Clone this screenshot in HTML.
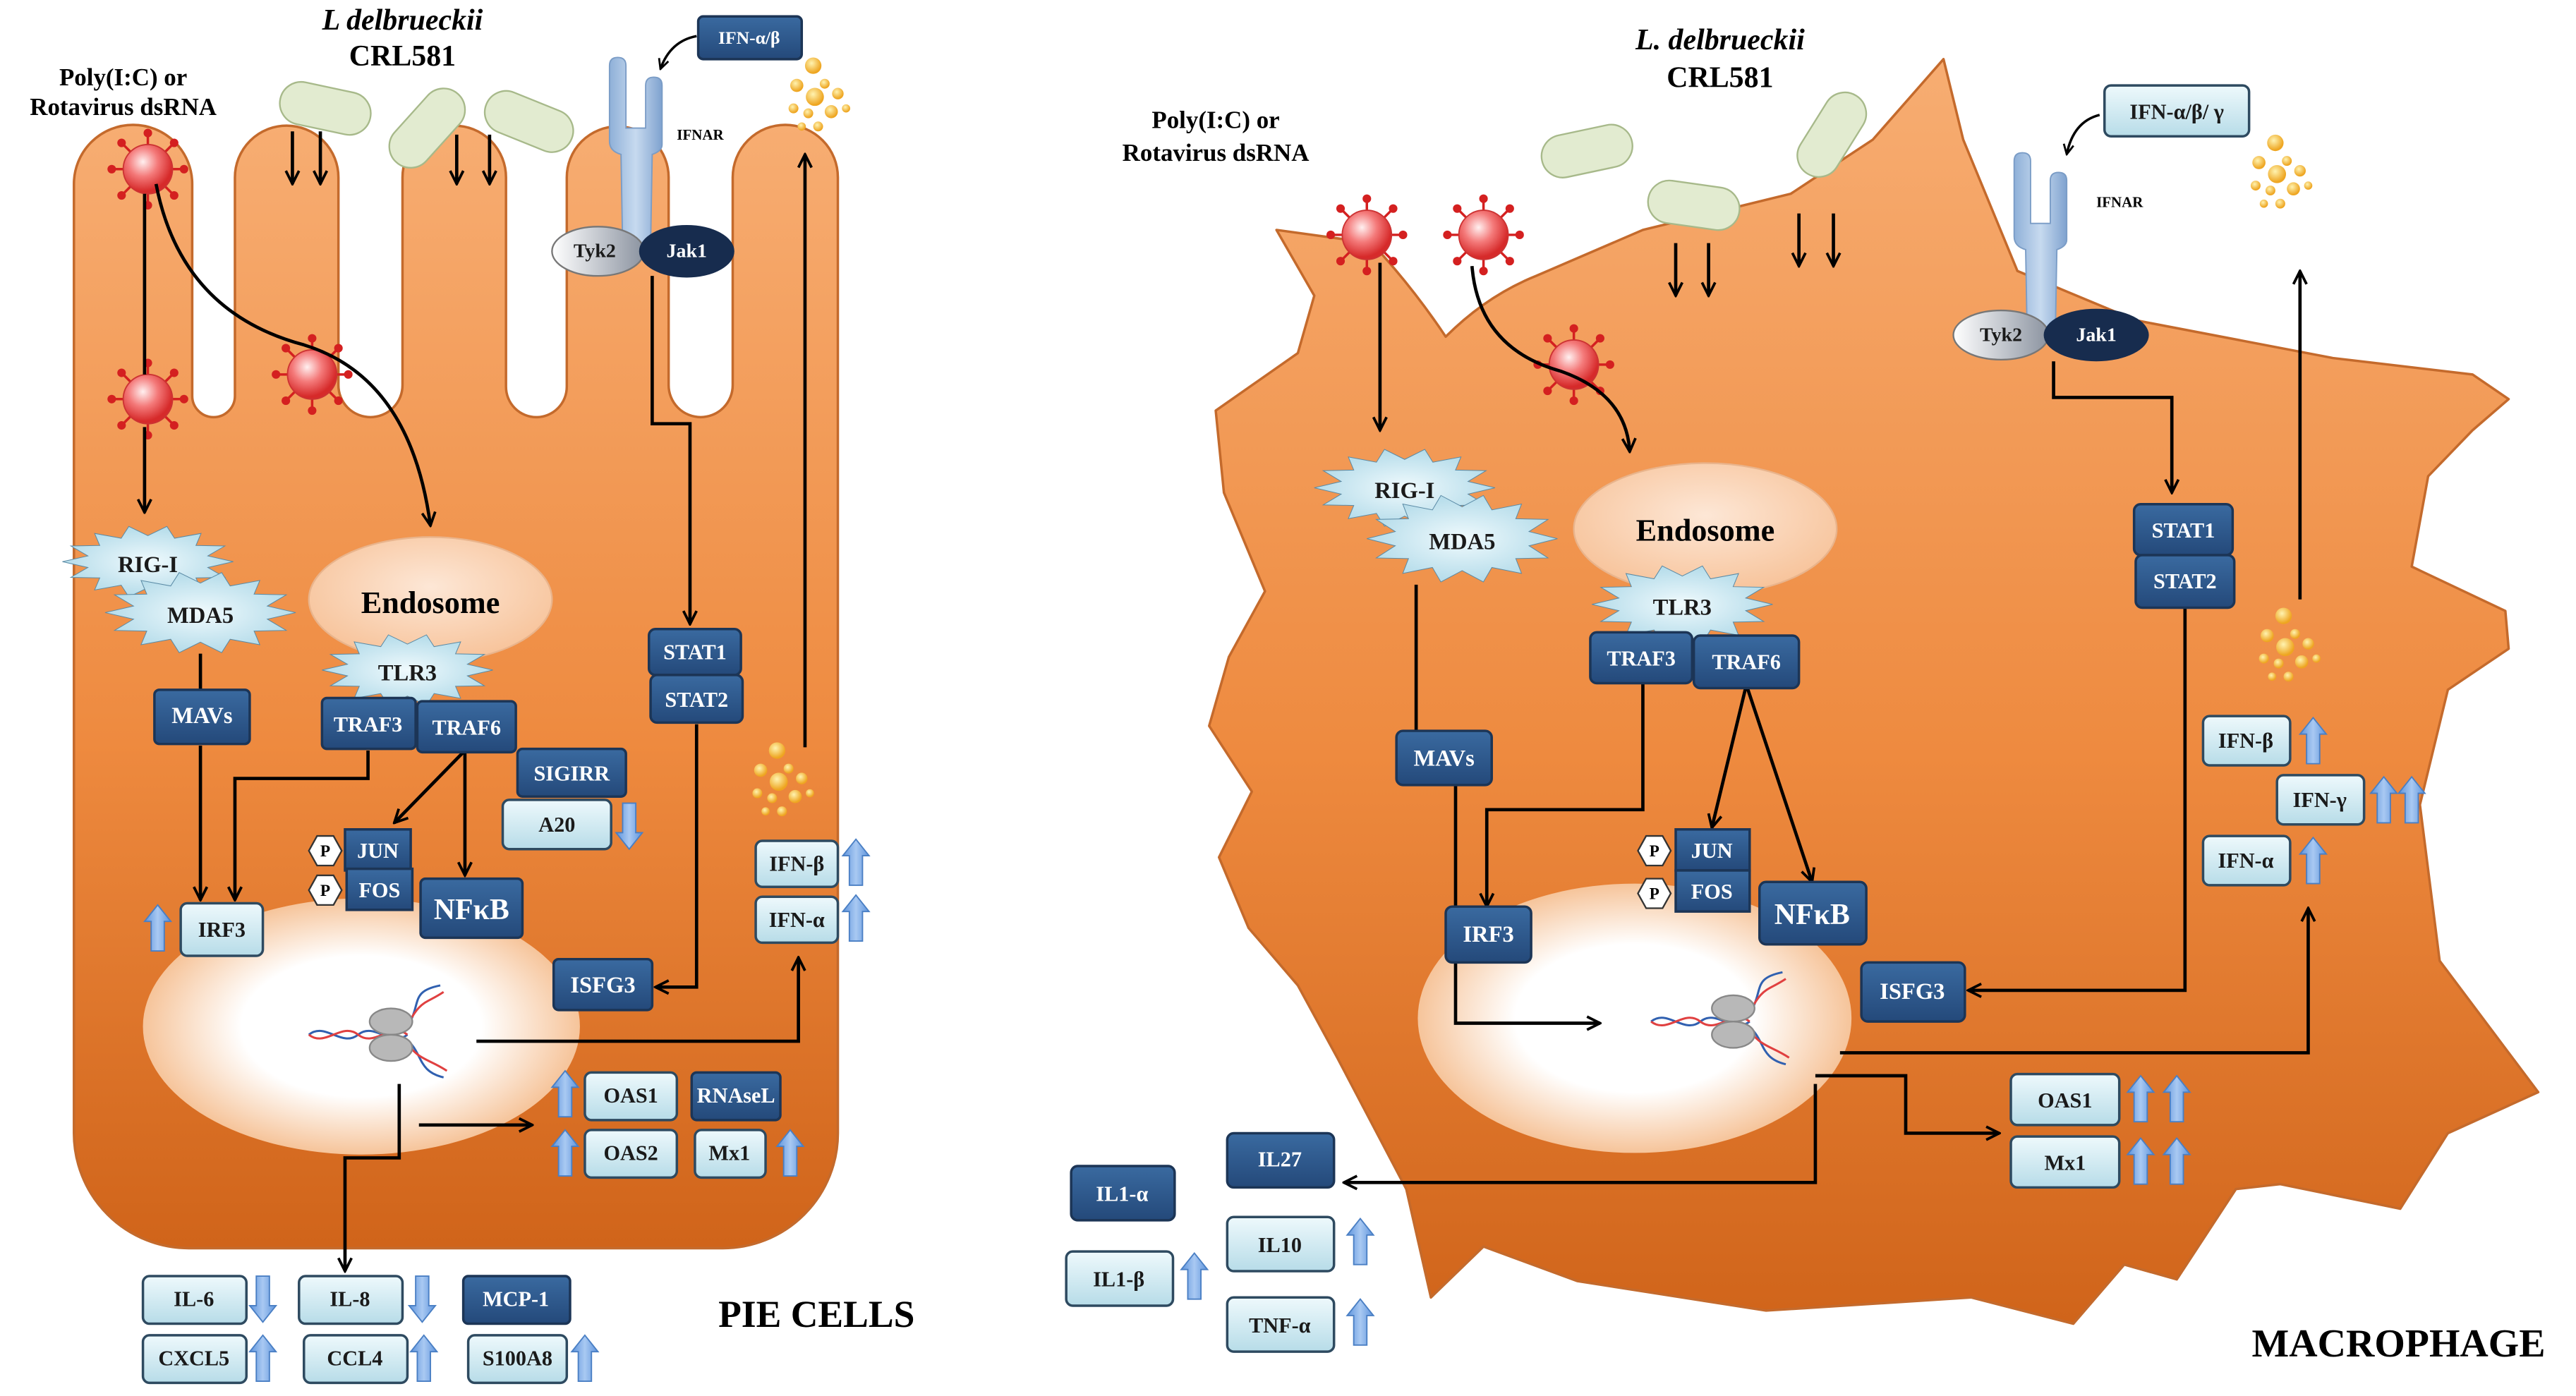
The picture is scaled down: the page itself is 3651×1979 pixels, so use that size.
<!DOCTYPE html>
<html><head><meta charset="utf-8"><style>
html,body{margin:0;padding:0;background:#fff;}
svg{display:block;}
text{font-family:"Liberation Serif",serif;font-weight:bold;}
.dk{fill:url(#gdk);stroke:#1c3556;stroke-width:1.5;}
.lt{fill:url(#glt);stroke:#2e4a60;stroke-width:1.5;}
.tw{fill:#fff;font-size:13px;text-anchor:middle;dominant-baseline:central;}
.tb{fill:#1a1a1a;font-size:13px;text-anchor:middle;dominant-baseline:central;}
.ln{fill:none;stroke:#000;stroke-width:2;}
</style></head><body>
<svg width="3651" height="1979" viewBox="0 0 1568 850" preserveAspectRatio="none" xmlns="http://www.w3.org/2000/svg">
<defs>
<linearGradient id="gcell" x1="0" y1="0" x2="0" y2="1">
<stop offset="0" stop-color="#f7ad72"/><stop offset="0.55" stop-color="#ee8a3f"/><stop offset="1" stop-color="#d0641a"/></linearGradient>
<radialGradient id="gnuc" cx="0.5" cy="0.5" r="0.5">
<stop offset="0" stop-color="#fff"/><stop offset="0.55" stop-color="#fff"/><stop offset="1" stop-color="#f6c49a"/></radialGradient>
<linearGradient id="gdk" x1="0" y1="0" x2="0" y2="1"><stop offset="0" stop-color="#3a6aa0"/><stop offset="1" stop-color="#24497a"/></linearGradient>
<linearGradient id="glt" x1="0" y1="0" x2="0" y2="1"><stop offset="0" stop-color="#eef9fc"/><stop offset="1" stop-color="#b7dce8"/></linearGradient>
<radialGradient id="gend" cx="0.5" cy="0.4" r="0.6"><stop offset="0" stop-color="#fde7d6"/><stop offset="1" stop-color="#f7c39a"/></radialGradient>
<radialGradient id="gvir" cx="0.4" cy="0.35" r="0.6"><stop offset="0" stop-color="#fff0f0"/><stop offset="0.5" stop-color="#f47a7a"/><stop offset="1" stop-color="#d62a2a"/></radialGradient>
<radialGradient id="gdot" cx="0.4" cy="0.35" r="0.6"><stop offset="0" stop-color="#fff3b0"/><stop offset="1" stop-color="#eea520"/></radialGradient>
<linearGradient id="grec" x1="0" y1="0" x2="1" y2="0"><stop offset="0" stop-color="#8fb0d8"/><stop offset="0.5" stop-color="#c7daef"/><stop offset="1" stop-color="#7fa2cf"/></linearGradient>
<linearGradient id="gtyk" x1="0" y1="0" x2="1" y2="0"><stop offset="0" stop-color="#fff"/><stop offset="1" stop-color="#8b93a0"/></linearGradient>
<linearGradient id="garr" x1="0" y1="0" x2="1" y2="0"><stop offset="0" stop-color="#5d93dc"/><stop offset="0.5" stop-color="#a9c9f2"/><stop offset="1" stop-color="#5d93dc"/></linearGradient>
<radialGradient id="gstar" cx="0.5" cy="0.5" r="0.6"><stop offset="0" stop-color="#f0fafd"/><stop offset="1" stop-color="#a9d6e6"/></radialGradient>
<marker id="ah" viewBox="0 0 10 10" refX="9" refY="5" markerWidth="5" markerHeight="5" orient="auto"><path d="M1,1 L9,5 L1,9" fill="none" stroke="#000" stroke-width="1.6"/></marker>
<g id="up"><path d="M-4,28 L-4,10 L-8,10 L0,0 L8,10 L4,10 L4,28 Z" fill="url(#garr)" stroke="#4a7fc4" stroke-width="0.8"/></g>
<g id="dn"><path d="M-4,0 L-4,18 L-8,18 L0,28 L8,18 L4,18 L4,0 Z" fill="url(#garr)" stroke="#4a7fc4" stroke-width="0.8"/></g>
<g id="star"><polygon points="1,0 .702,.16 .901,.434 .563,.449 .623,.782 .312,.649 .223,.975 0,.72 -.223,.975 -.312,.649 -.623,.782 -.563,.449 -.901,.434 -.702,.16 -1,0 -.702,-.16 -.901,-.434 -.563,-.449 -.623,-.782 -.312,-.649 -.223,-.975 0,-.72 .223,-.975 .312,-.649 .623,-.782 .563,-.449 .901,-.434 .702,-.16" fill="url(#gstar)" stroke="#5a8aa5" stroke-width="1" vector-effect="non-scaling-stroke"/></g>
<g id="vir">
<g stroke="#d42020" stroke-width="1.5"><line x1="-22" y1="0" x2="22" y2="0"/><line x1="0" y1="-22" x2="0" y2="22"/><line x1="-16" y1="-16" x2="16" y2="16"/><line x1="-16" y1="16" x2="16" y2="-16"/></g>
<g fill="#d42020"><circle cx="-22" cy="0" r="2.6"/><circle cx="22" cy="0" r="2.6"/><circle cx="0" cy="-22" r="2.6"/><circle cx="0" cy="22" r="2.6"/><circle cx="-16" cy="-16" r="2.6"/><circle cx="16" cy="16" r="2.6"/><circle cx="-16" cy="16" r="2.6"/><circle cx="16" cy="-16" r="2.6"/></g>
<circle r="15" fill="url(#gvir)" stroke="#c33" stroke-width="0.8"/></g>
<g id="rec"><path d="M-17,0 Q-17,-5 -12,-5 Q-7,-5 -7,0 L-7,38 L5,38 L5,12 Q5,7 10,7 Q15,7 15,12 L15,48 Q15,52 9,54 L8,110 L-9,110 L-10,54 Q-17,52 -17,46 Z" fill="url(#grec)" stroke="#7a9cc6" stroke-width="0.8"/></g>
<g id="bac"><rect x="-28" y="-13" width="56" height="26" rx="13" fill="#e2ebd0" stroke="#a7b98a" stroke-width="1"/></g>
<g id="dots" fill="url(#gdot)"><circle cx="15" cy="5" r="5"/><circle cx="5" cy="17" r="4"/><circle cx="22" cy="16" r="3"/><circle cx="16" cy="24" r="5.5"/><circle cx="30" cy="22" r="3.5"/><circle cx="3" cy="31" r="3"/><circle cx="12" cy="34" r="3"/><circle cx="26" cy="33" r="4"/><circle cx="35" cy="31" r="2.5"/><circle cx="18" cy="42" r="3"/><circle cx="8" cy="42" r="2.5"/></g>
<g id="dna"><path d="M-50,8 C-40,0 -30,16 -20,8 C-10,0 0,16 10,8" fill="none" stroke="#3060b0" stroke-width="1.3"/><path d="M-50,8 C-40,16 -30,0 -20,8 C-10,16 0,0 10,8" fill="none" stroke="#e04040" stroke-width="1.3"/>
<path d="M8,6 C20,-10 10,-18 30,-22" fill="none" stroke="#3060b0" stroke-width="1.3"/><path d="M8,6 C18,-14 20,-10 32,-18" fill="none" stroke="#e04040" stroke-width="1.3"/>
<path d="M8,10 C20,18 15,30 32,34" fill="none" stroke="#3060b0" stroke-width="1.3"/><path d="M8,10 C16,24 22,22 34,30" fill="none" stroke="#e04040" stroke-width="1.3"/>
<ellipse cx="0" cy="0" rx="13" ry="8" fill="#b8b8b8" stroke="#888"/><ellipse cx="0" cy="16" rx="13" ry="8" fill="#b8b8b8" stroke="#888"/></g>
<g id="P"><polygon points="-5,-9 5,-9 10,0 5,9 -5,9 -10,0" fill="#fff" stroke="#333"/><text x="0" y="0.5" style="font-size:10px;text-anchor:middle;dominant-baseline:central">P</text></g>
</defs>

<!-- LEFT CELL -->
<path d="M45,112 A36,36 0 0 1 117,112 L117,241 A13,13 0 0 0 143,241 L143,108 A31.5,31.5 0 0 1 206,108 L206,234.5 A19.5,19.5 0 0 0 245,234.5 L245,108 A31.5,31.5 0 0 1 308,108 L308,235.5 A18.5,18.5 0 0 0 345,235.5 L345,108 A31,31 0 0 1 407,108 L407,234.5 A19.5,19.5 0 0 0 446,234.5 L446,108 A32,32 0 0 1 510,108 L510,690 A70,70 0 0 1 440,760 L115,760 A70,70 0 0 1 45,690 Z" fill="url(#gcell)" stroke="#c46a2c" stroke-width="1.5"/>
<ellipse cx="220" cy="625" rx="133" ry="78" fill="url(#gnuc)"/>

<!-- RIGHT CELL -->
<path d="M777,140 L835,148 Q860,175 880,205 Q905,180 935,168 L1000,140 L1090,118 L1140,85 L1183,36 L1195,85 L1228,165 L1300,195 L1420,218 L1505,228 L1527,243 L1505,262 L1478,290 L1468,345 L1525,372 L1527,395 L1490,420 L1473,490 L1485,585 L1545,665 L1490,690 L1461,736 L1388,721 L1361,724 L1325,779 L1293,770 L1262,806 L1200,790 L1075,798 L960,780 L903,759 L871,790 L856,724 L814,644 L790,600 L760,565 L742,522 L762,482 L736,442 L748,400 L770,360 L745,300 L740,250 L790,215 L800,180 Z" fill="url(#gcell)" stroke="#c46a2c" stroke-width="1.5" stroke-linejoin="round"/>
<ellipse cx="995" cy="620" rx="132" ry="82" fill="url(#gnuc)"/>

<!-- LEFT labels top -->
<text x="75" y="52" style="font-size:15px;text-anchor:middle">Poly(I:C) or</text>
<text x="75" y="70" style="font-size:15px;text-anchor:middle">Rotavirus dsRNA</text>
<text x="245" y="18" style="font-size:18px;text-anchor:middle;font-style:italic">L delbrueckii</text>
<text x="245" y="40" style="font-size:18px;text-anchor:middle">CRL581</text>
<use href="#bac" transform="translate(198,66) rotate(12)"/>
<use href="#bac" transform="translate(260,78) rotate(-48)"/>
<use href="#bac" transform="translate(322,74) rotate(22)"/>
<g class="ln"><line x1="178" y1="80" x2="178" y2="112" marker-end="url(#ah)"/><line x1="195" y1="80" x2="195" y2="112" marker-end="url(#ah)"/><line x1="278" y1="82" x2="278" y2="112" marker-end="url(#ah)"/><line x1="298" y1="82" x2="298" y2="112" marker-end="url(#ah)"/></g>

<use href="#rec" transform="translate(388,40)"/>
<text x="412" y="85" style="font-size:9px">IFNAR</text>
<rect x="425" y="10" width="63" height="26" rx="3" class="dk"/><text x="456" y="23" class="tw" style="font-size:11px">IFN-α/β</text>
<path d="M424,22 Q408,25 402,42" class="ln" style="stroke-width:1.5" marker-end="url(#ah)"/>
<ellipse cx="364" cy="153" rx="28" ry="15" fill="url(#gtyk)" stroke="#777"/><text x="362" y="153" class="tb" style="font-size:12px">Tyk2</text>
<ellipse cx="418" cy="153" rx="29" ry="16" fill="#172c4e"/><text x="418" y="153" class="tw" style="font-size:12px">Jak1</text>
<use href="#dots" transform="translate(480,35)"/>

<use href="#vir" transform="translate(90,103)"/>
<use href="#vir" transform="translate(90,243)"/>
<use href="#vir" transform="translate(190,228)"/>
<g class="ln"><line x1="88" y1="118" x2="88" y2="228"/><line x1="88" y1="260" x2="88" y2="312" marker-end="url(#ah)"/>
<path d="M95,112 Q110,190 185,210 Q250,230 262,320" marker-end="url(#ah)"/></g>

<ellipse cx="262" cy="365" rx="74" ry="38" fill="url(#gend)" stroke="#e9b48c"/>
<text x="262" y="367" style="font-size:19px;text-anchor:middle;dominant-baseline:central">Endosome</text>
<use href="#star" transform="translate(90,342) scale(52,22)"/>
<text x="90" y="344" class="tb" style="font-size:14px">RIG-I</text>
<use href="#star" transform="translate(122,373) scale(58,25)"/>
<text x="122" y="375" class="tb" style="font-size:14px">MDA5</text>
<use href="#star" transform="translate(248,408) scale(52,22)"/>
<text x="248" y="410" class="tb" style="font-size:14px">TLR3</text>

<g class="ln"><line x1="122" y1="398" x2="122" y2="421"/><line x1="122" y1="454" x2="122" y2="548" marker-end="url(#ah)"/>
<polyline points="224,457 224,474 143,474 143,548" marker-end="url(#ah)"/>
<line x1="283" y1="457" x2="283" y2="533" marker-end="url(#ah)"/>
<line x1="283" y1="457" x2="240" y2="501" marker-end="url(#ah)"/>
<polyline points="397,168 397,258 420,258 420,380" marker-end="url(#ah)"/>
<polyline points="424,441 424,601 399,601" marker-end="url(#ah)"/>
<polyline points="290,634 486,634 486,583" marker-end="url(#ah)"/>
<line x1="490" y1="455" x2="490" y2="94" marker-end="url(#ah)"/>
<line x1="255" y1="685" x2="324" y2="685" marker-end="url(#ah)"/>
<polyline points="243,660 243,705 210,705 210,774" marker-end="url(#ah)"/></g>

<rect x="94" y="420" width="58" height="33" rx="3" class="dk"/><text x="123" y="436" class="tw" style="font-size:14px">MAVs</text>
<rect x="196" y="425" width="57" height="31" rx="3" class="dk"/><text x="224" y="441" class="tw">TRAF3</text>
<rect x="254" y="427" width="60" height="31" rx="3" class="dk"/><text x="284" y="443" class="tw">TRAF6</text>
<rect x="315" y="456" width="66" height="29" rx="3" class="dk"/><text x="348" y="471" class="tw">SIGIRR</text>
<rect x="306" y="487" width="66" height="30" rx="4" class="lt"/><text x="339" y="502" class="tb">A20</text>
<use href="#dn" transform="translate(383,489)"/>
<rect x="110" y="550" width="50" height="32" rx="4" class="lt"/><text x="135" y="566" class="tb">IRF3</text>
<use href="#up" transform="translate(96,551)"/>
<rect x="210" y="505" width="40" height="25" class="dk"/><text x="230" y="518" class="tw">JUN</text>
<rect x="211" y="529" width="40" height="25" class="dk"/><text x="231" y="542" class="tw">FOS</text>
<use href="#P" transform="translate(198,518)"/><use href="#P" transform="translate(198,542)"/>
<rect x="256" y="535" width="62" height="36" rx="3" class="dk"/><text x="287" y="554" class="tw" style="font-size:18px">NFκB</text>
<rect x="395" y="383" width="56" height="28" rx="4" class="dk"/><text x="423" y="397" class="tw">STAT1</text>
<rect x="396" y="411" width="56" height="29" rx="4" class="dk"/><text x="424" y="426" class="tw">STAT2</text>
<use href="#dots" transform="translate(458,452)"/>
<rect x="460" y="512" width="50" height="28" rx="4" class="lt"/><text x="485" y="526" class="tb">IFN-β</text>
<use href="#up" transform="translate(521,511)"/>
<rect x="460" y="546" width="50" height="28" rx="4" class="lt"/><text x="485" y="560" class="tb">IFN-α</text>
<use href="#up" transform="translate(521,545)"/>
<rect x="337" y="584" width="60" height="31" rx="3" class="dk"/><text x="367" y="600" class="tw" style="font-size:14px">ISFG3</text>
<use href="#dna" transform="translate(238,622)"/>
<rect x="356" y="653" width="56" height="29" rx="4" class="lt"/><text x="384" y="667" class="tb">OAS1</text>
<rect x="421" y="653" width="54" height="29" rx="3" class="dk"/><text x="448" y="667" class="tw">RNAseL</text>
<rect x="356" y="688" width="56" height="29" rx="4" class="lt"/><text x="384" y="702" class="tb">OAS2</text>
<rect x="423" y="688" width="43" height="29" rx="4" class="lt"/><text x="444" y="702" class="tb">Mx1</text>
<use href="#up" transform="translate(344,652)"/><use href="#up" transform="translate(344,688)"/><use href="#up" transform="translate(481,688)"/>

<rect x="87" y="777" width="63" height="29" rx="4" class="lt"/><text x="118" y="791" class="tb">IL-6</text>
<use href="#dn" transform="translate(160,777)"/>
<rect x="182" y="777" width="63" height="29" rx="4" class="lt"/><text x="213" y="791" class="tb">IL-8</text>
<use href="#dn" transform="translate(257,777)"/>
<rect x="282" y="777" width="65" height="29" rx="3" class="dk"/><text x="314" y="791" class="tw">MCP-1</text>
<rect x="87" y="813" width="63" height="29" rx="4" class="lt"/><text x="118" y="827" class="tb">CXCL5</text>
<use href="#up" transform="translate(160,813)"/>
<rect x="185" y="813" width="63" height="29" rx="4" class="lt"/><text x="216" y="827" class="tb">CCL4</text>
<use href="#up" transform="translate(258,813)"/>
<rect x="285" y="813" width="60" height="29" rx="4" class="lt"/><text x="315" y="827" class="tb">S100A8</text>
<use href="#up" transform="translate(356,813)"/>
<text x="497" y="808" style="font-size:23px;text-anchor:middle">PIE CELLS</text>

<!-- RIGHT -->
<text x="1047" y="30" style="font-size:18px;text-anchor:middle;font-style:italic">L. delbrueckii</text>
<text x="1047" y="53" style="font-size:18px;text-anchor:middle">CRL581</text>
<text x="740" y="78" style="font-size:15px;text-anchor:middle">Poly(I:C) or</text>
<text x="740" y="98" style="font-size:15px;text-anchor:middle">Rotavirus dsRNA</text>
<use href="#bac" transform="translate(966,92) rotate(-12)"/>
<use href="#bac" transform="translate(1031,125) rotate(8)"/>
<use href="#bac" transform="translate(1115,82) rotate(-58)"/>
<g class="ln"><line x1="1020" y1="148" x2="1020" y2="180" marker-end="url(#ah)"/><line x1="1040" y1="148" x2="1040" y2="180" marker-end="url(#ah)"/><line x1="1095" y1="130" x2="1095" y2="162" marker-end="url(#ah)"/><line x1="1116" y1="130" x2="1116" y2="162" marker-end="url(#ah)"/></g>

<rect x="1281" y="52" width="88" height="31" rx="4" class="lt"/><text x="1325" y="68" class="tb">IFN-α/β/ γ</text>
<path d="M1278,70 Q1262,74 1258,94" class="ln" style="stroke-width:1.5" marker-end="url(#ah)"/>
<use href="#rec" transform="translate(1243,98)"/>
<text x="1276" y="126" style="font-size:9px">IFNAR</text>
<ellipse cx="1218" cy="204" rx="29" ry="15" fill="url(#gtyk)" stroke="#777"/><text x="1218" y="204" class="tb" style="font-size:12px">Tyk2</text>
<ellipse cx="1276" cy="204" rx="32" ry="16" fill="#172c4e"/><text x="1276" y="204" class="tw" style="font-size:12px">Jak1</text>
<use href="#dots" transform="translate(1370,82)"/>
<use href="#dots" transform="translate(1375,370)"/>

<use href="#vir" transform="translate(832,143)"/>
<use href="#vir" transform="translate(903,143)"/>
<use href="#vir" transform="translate(958,222)"/>
<g class="ln"><line x1="840" y1="160" x2="840" y2="262" marker-end="url(#ah)"/>
<path d="M896,162 Q900,212 950,226 Q990,240 992,275" marker-end="url(#ah)"/></g>

<ellipse cx="1038" cy="322" rx="80" ry="40" fill="url(#gend)" stroke="#e9b48c"/>
<text x="1038" y="323" style="font-size:19px;text-anchor:middle;dominant-baseline:central">Endosome</text>
<use href="#star" transform="translate(855,297) scale(55,24)"/>
<text x="855" y="299" class="tb" style="font-size:14px">RIG-I</text>
<use href="#star" transform="translate(890,328) scale(58,27)"/>
<text x="890" y="330" class="tb" style="font-size:14px">MDA5</text>
<use href="#star" transform="translate(1024,368) scale(55,24)"/>
<text x="1024" y="370" class="tb" style="font-size:14px">TLR3</text>

<g class="ln"><line x1="862" y1="356" x2="862" y2="446"/>
<polyline points="886,478 886,623 974,623" marker-end="url(#ah)"/>
<polyline points="1000,415 1000,493 905,493 905,552" marker-end="url(#ah)"/>
<line x1="1063" y1="417" x2="1042" y2="504" marker-end="url(#ah)"/>
<line x1="1063" y1="417" x2="1103" y2="537" marker-end="url(#ah)"/>
<polyline points="1250,220 1250,242 1322,242 1322,300" marker-end="url(#ah)"/>
<polyline points="1330,370 1330,603 1198,603" marker-end="url(#ah)"/>
<polyline points="1120,641 1405,641 1405,553" marker-end="url(#ah)"/>
<line x1="1400" y1="365" x2="1400" y2="165" marker-end="url(#ah)"/>
<polyline points="1105,655 1160,655 1160,690 1217,690" marker-end="url(#ah)"/>
<polyline points="1105,660 1105,720 818,720" marker-end="url(#ah)"/></g>

<rect x="850" y="445" width="58" height="33" rx="4" class="dk"/><text x="879" y="462" class="tw" style="font-size:14px">MAVs</text>
<rect x="968" y="385" width="62" height="31" rx="4" class="dk"/><text x="999" y="401" class="tw">TRAF3</text>
<rect x="1031" y="387" width="64" height="32" rx="4" class="dk"/><text x="1063" y="403" class="tw">TRAF6</text>
<rect x="880" y="552" width="52" height="34" rx="4" class="dk"/><text x="906" y="569" class="tw" style="font-size:14px">IRF3</text>
<rect x="1020" y="505" width="45" height="25" class="dk"/><text x="1042" y="518" class="tw">JUN</text>
<rect x="1020" y="530" width="45" height="25" class="dk"/><text x="1042" y="543" class="tw">FOS</text>
<use href="#P" transform="translate(1007,518)"/><use href="#P" transform="translate(1007,544)"/>
<rect x="1071" y="537" width="65" height="38" rx="4" class="dk"/><text x="1103" y="557" class="tw" style="font-size:18px">NFκB</text>
<rect x="1299" y="307" width="60" height="31" rx="4" class="dk"/><text x="1329" y="323" class="tw">STAT1</text>
<rect x="1300" y="338" width="60" height="32" rx="4" class="dk"/><text x="1330" y="354" class="tw">STAT2</text>
<rect x="1133" y="586" width="63" height="36" rx="4" class="dk"/><text x="1164" y="604" class="tw" style="font-size:14px">ISFG3</text>
<use href="#dna" transform="translate(1055,614)"/>
<rect x="1341" y="436" width="53" height="30" rx="4" class="lt"/><text x="1367" y="451" class="tb">IFN-β</text>
<use href="#up" transform="translate(1408,437)"/>
<rect x="1386" y="472" width="53" height="30" rx="4" class="lt"/><text x="1412" y="487" class="tb">IFN-γ</text>
<use href="#up" transform="translate(1451,473)"/><use href="#up" transform="translate(1468,473)"/>
<rect x="1341" y="509" width="53" height="30" rx="4" class="lt"/><text x="1367" y="524" class="tb">IFN-α</text>
<use href="#up" transform="translate(1408,510)"/>
<rect x="1224" y="654" width="66" height="31" rx="4" class="lt"/><text x="1257" y="670" class="tb">OAS1</text>
<use href="#up" transform="translate(1303,655)"/><use href="#up" transform="translate(1325,655)"/>
<rect x="1224" y="692" width="66" height="31" rx="4" class="lt"/><text x="1257" y="708" class="tb">Mx1</text>
<use href="#up" transform="translate(1303,693)"/><use href="#up" transform="translate(1325,693)"/>

<rect x="747" y="690" width="65" height="33" rx="4" class="dk"/><text x="779" y="706" class="tw">IL27</text>
<rect x="652" y="710" width="63" height="33" rx="4" class="dk"/><text x="683" y="727" class="tw">IL1-α</text>
<rect x="747" y="741" width="65" height="33" rx="4" class="lt"/><text x="779" y="758" class="tb">IL10</text>
<use href="#up" transform="translate(828,742)"/>
<rect x="649" y="762" width="65" height="33" rx="4" class="lt"/><text x="681" y="779" class="tb">IL1-β</text>
<use href="#up" transform="translate(727,763)"/>
<rect x="747" y="790" width="65" height="33" rx="4" class="lt"/><text x="779" y="807" class="tb">TNF-α</text>
<use href="#up" transform="translate(828,791)"/>
<text x="1460" y="826" style="font-size:24px;text-anchor:middle">MACROPHAGE</text>
</svg>
</body></html>
